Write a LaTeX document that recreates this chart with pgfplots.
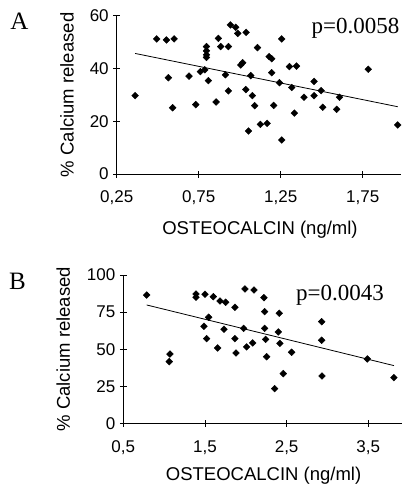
\documentclass[border=0pt]{standalone}
\usepackage{fontspec}
\setmainfont{Liberation Sans}
\newfontfamily\timesfont{Liberation Serif}
\usepackage{pgfplots}
\usepackage{pgfplotstable}
\pgfplotsset{compat=1.18}

% panel A: osteocalcin vs calcium released
\pgfplotstableread{
x y
0.362 29.7
0.494 51.2
0.553 50.8
0.600 51.2
0.565 36.5
0.591 25.1
0.691 37.1
0.732 26.3
0.760 38.8
0.787 39.5
0.797 48.3
0.797 46.7
0.797 45.2
0.797 44.2
0.809 35.4
0.856 27.3
0.870 51.4
0.884 48.3
0.913 37.6
0.931 48.3
0.931 31.5
0.943 56.5
0.975 55.6
0.988 53.3
1.039 53.7
1.006 41.3
1.018 42.2
1.037 32.0
1.053 16.3
1.067 37.3
1.077 29.7
1.091 25.9
1.108 47.9
1.126 18.8
1.167 19.2
1.179 44.5
1.195 43.7
1.195 38.4
1.207 26.0
1.242 34.6
1.256 51.2
1.256 12.9
1.303 40.7
1.317 32.8
1.333 23.1
1.346 40.9
1.392 29.1
1.453 35.1
1.453 29.7
1.496 31.6
1.506 25.3
1.591 24.5
1.608 29.1
1.783 39.7
1.963 18.6
}\dataA

% panel B
\pgfplotstableread{
x y
0.786 86.5
1.063 41.6
1.071 46.7
1.390 87.2
1.390 85.0
1.488 65.4
1.500 87.0
1.520 57.1
1.545 71.5
1.602 85.4
1.655 50.8
1.684 82.5
1.753 81.6
1.733 63.4
1.867 78.2
1.867 57.1
1.880 47.4
1.973 64.0
1.990 90.6
2.010 51.5
2.084 54.2
2.100 89.9
2.222 84.7
2.231 75.3
2.231 64.0
2.243 56.6
2.255 44.9
2.353 23.4
2.410 74.2
2.398 61.6
2.418 53.9
2.459 33.5
2.561 47.9
2.929 68.5
2.929 56.0
2.933 31.9
3.488 43.4
3.814 30.8
}\dataB

\pgfplotsset{
  panel/.style={
    scale only axis,
    anchor=south west,
    axis lines=left,
    axis line style={-, line width=0.8pt},
    tick align=center,
    major tick length=7pt,
    tick style={line width=0.8pt, black},
    clip=false,
    /pgf/number format/assume math mode=true,
    tick label style={font=\fontsize{17}{20}\selectfont},
    xticklabel style={yshift=-10pt},
    yticklabel style={xshift=-1pt},
    label style={font=\fontsize{18.5}{22}\selectfont},
    xlabel={OSTEOCALCIN (ng/ml)},
    ylabel={\% Calcium released},
  },
  dots/.style={only marks, mark=square*, mark size=2.4pt,
    mark options={rotate=45, black, fill=black}},
  fit/.style={black, line width=0.8pt, no marks},
}

\begin{document}
\begin{tikzpicture}
\path[use as bounding box] (0,0) rectangle (406pt,-487pt);

\begin{axis}[panel,
  at={(116.7pt,-174pt)},
  width=284.3pt, height=158.3pt,
  xmin=0.25, xmax=1.983, ymin=0, ymax=60,
  xtick={0.25,0.75,1.25,1.75},
  xticklabels={{0,25},{0,75},{1,25},{1,75}},
  ytick={0,20,40,60},
  xlabel style={at={(axis description cs:0.504,-0.350)}, anchor=center},
  ylabel style={at={(axis description cs:-0.175,0.5)}, anchor=center},
]
  \addplot[dots] table[x=x, y=y] {\dataA};
  \addplot[fit] coordinates {(0.362,45.7) (1.963,25.5)};
  \node[anchor=base east, font=\timesfont\fontsize{23}{23}\selectfont]
    at (rel axis cs:1.007,0.889) {p=0.0058};
\end{axis}

\begin{axis}[panel,
  at={(123.3pt,-423.3pt)},
  width=278.3pt, height=148.3pt,
  xmin=0.5, xmax=3.908, ymin=0, ymax=100,
  xtick={0.5,1.5,2.5,3.5},
  xticklabels={{0,5},{1,5},{2,5},{3,5}},
  ytick={0,25,50,75,100},
  xlabel style={at={(axis description cs:0.504,-0.355)}, anchor=center},
  ylabel style={at={(axis description cs:-0.216,0.5)}, anchor=center},
]
  \addplot[dots] table[x=x, y=y] {\dataB};
  \addplot[fit] coordinates {(0.786,79.8) (3.814,38.9)};
  \node[anchor=base east, font=\timesfont\fontsize{23}{23}\selectfont]
    at (rel axis cs:0.949,0.831) {p=0.0043};
\end{axis}

\node[font=\timesfont\fontsize{25}{25}\selectfont] at (19.5pt,-21.7pt) {A};
\node[font=\timesfont\fontsize{25}{25}\selectfont] at (17.5pt,-281.7pt) {B};
\end{tikzpicture}
\end{document}
